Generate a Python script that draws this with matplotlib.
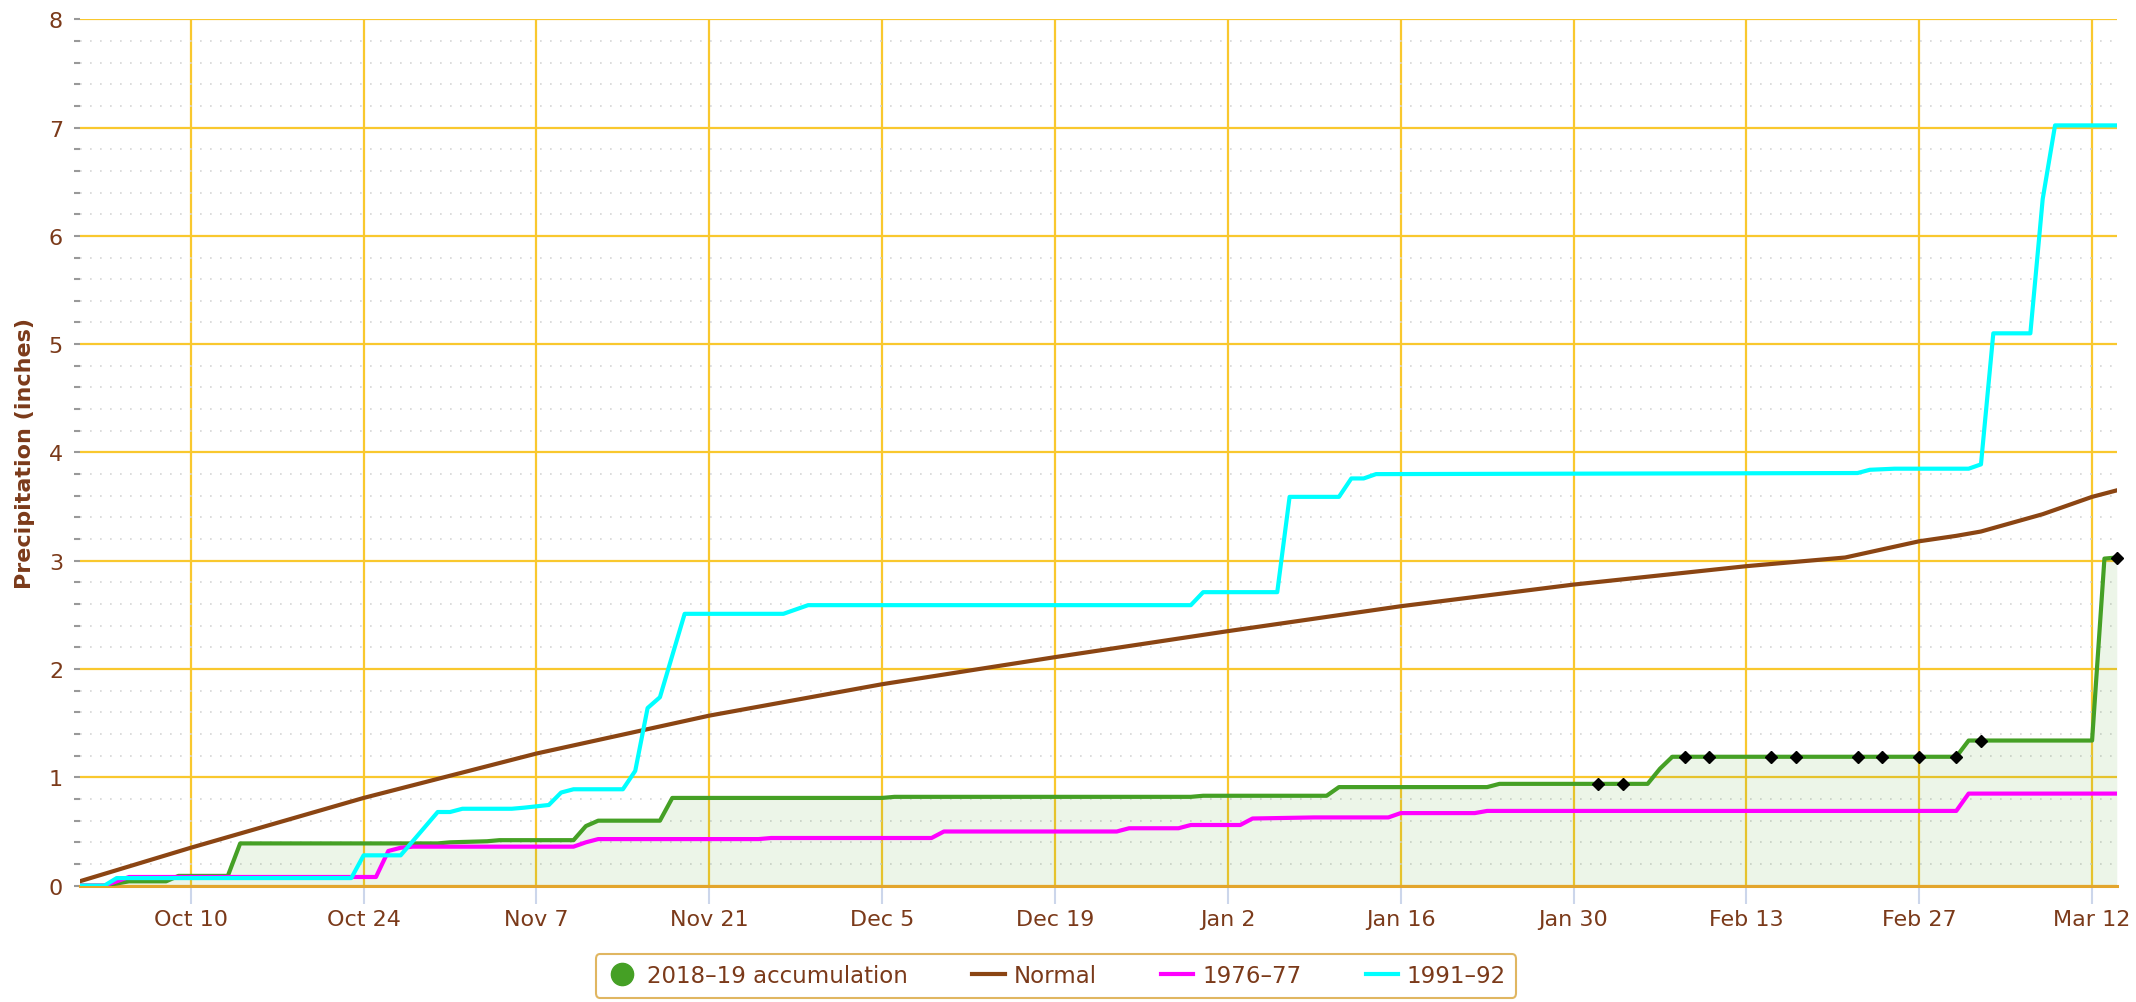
import numpy as np
import matplotlib
matplotlib.use("Agg")
import matplotlib.pyplot as plt
from matplotlib.lines import Line2D
from matplotlib.ticker import MultipleLocator

# water-year day index (0 = Oct 1, calendar has a Feb 29 slot)
tick_days = [9, 23, 37, 51, 65, 79, 93, 107, 121, 135, 149, 163]
tick_labels = ["Oct 10", "Oct 24", "Nov 7", "Nov 21", "Dec 5", "Dec 19",
               "Jan 2", "Jan 16", "Jan 30", "Feb 13", "Feb 27", "Mar 12"]

# 2018-19 accumulation
acc_day = [0, 2, 4, 7, 8, 12, 13, 29, 30, 33, 34, 40, 41, 42, 47, 48, 65, 66,
           90, 91, 101, 102, 114, 115, 127, 128, 129, 152, 153, 163, 164, 165]
acc_val = [0, 0, 0.04, 0.04, 0.09, 0.09, 0.39, 0.39, 0.40, 0.41, 0.42, 0.42,
           0.55, 0.60, 0.60, 0.81, 0.81, 0.82, 0.82, 0.83, 0.83, 0.91, 0.91,
           0.94, 0.94, 1.08, 1.19, 1.19, 1.34, 1.34, 3.02, 3.03]
# flagged days (black diamonds)
flag_day = [123, 125, 130, 132, 137, 139, 144, 146, 149, 152, 154, 165]
flag_val = [0.94, 0.94, 1.19, 1.19, 1.19, 1.19, 1.19, 1.19, 1.19, 1.19, 1.34, 3.03]

# Normal
norm_day = [0, 9, 23, 37, 51, 65, 79, 93, 107, 121, 135, 143, 149, 152, 154,
            159, 163, 165]
norm_val = [0.04, 0.35, 0.81, 1.22, 1.57, 1.86, 2.11, 2.35, 2.58, 2.78, 2.95,
            3.03, 3.18, 3.23, 3.27, 3.43, 3.59, 3.65]

# 1976-77
y77_day = [0, 2, 3, 4, 24, 25, 26, 27, 40, 41, 42, 55, 56, 69, 70, 84, 85, 89,
           90, 94, 95, 100, 106, 107, 113, 114, 152, 153, 165]
y77_val = [0, 0, 0.04, 0.08, 0.08, 0.32, 0.35, 0.36, 0.36, 0.40, 0.43, 0.43,
           0.44, 0.44, 0.50, 0.50, 0.53, 0.53, 0.56, 0.56, 0.62, 0.63, 0.63,
           0.67, 0.67, 0.69, 0.69, 0.85, 0.85]

# 1991-92
y92_day = [0, 2, 3, 22, 23, 26, 29, 30, 31, 35, 36, 38, 39, 40, 44, 45, 46, 47,
           49, 57, 58, 59, 90, 91, 97, 98, 102, 103, 104, 105, 144, 145, 147,
           153, 154, 155, 158, 159, 160, 165]
y92_val = [0, 0, 0.07, 0.07, 0.28, 0.28, 0.68, 0.68, 0.71, 0.71, 0.72, 0.745,
           0.86, 0.89, 0.89, 1.06, 1.64, 1.74, 2.51, 2.51, 2.55, 2.59, 2.59,
           2.71, 2.71, 3.59, 3.59, 3.76, 3.76, 3.80, 3.81, 3.84, 3.85, 3.85,
           3.89, 5.10, 5.10, 6.34, 7.02, 7.02]

brown = "#7B3A1A"
gold = "#F9C82E"

fig = plt.figure(figsize=(21.36, 10.03), dpi=100)
ax = fig.add_axes([0.0373, 0.116, 0.9537, 0.8638])

ax.fill_between(acc_day, acc_val, 0, color="#45A025", alpha=0.1, lw=0, zorder=1)
ax.plot(acc_day, acc_val, color="#45A025", lw=3, zorder=3)
ax.plot(norm_day, norm_val, color="#8B4513", lw=3, zorder=4)
ax.plot(y77_day, y77_val, color="#FF00FF", lw=3, zorder=5)
ax.plot(y92_day, y92_val, color="#00FFFF", lw=3, zorder=6)
ax.plot(flag_day, flag_val, "D", color="black", ms=6, zorder=7, clip_on=False)

ax.set_xlim(0, 165)
ax.set_ylim(0, 8)
ax.set_xticks(tick_days)
ax.set_xticklabels(tick_labels)
ax.yaxis.set_major_locator(MultipleLocator(1))
ax.yaxis.set_minor_locator(MultipleLocator(0.2))

ax.grid(True, which="major", color=gold, lw=1.6, zorder=0)
ax.grid(True, which="minor", axis="y", color="#D5D5D5", lw=1.2,
        linestyle=(0, (1, 5)), zorder=0)
ax.set_axisbelow(True)

for s in ["top", "right", "left"]:
    ax.spines[s].set_visible(False)
ax.spines["bottom"].set_color("#E3A52C")
ax.spines["bottom"].set_linewidth(2.2)
ax.spines["bottom"].set_zorder(2)

ax.tick_params(axis="x", length=13, width=1.5, color="#CCD6EB", pad=4,
               labelsize=16, labelcolor=brown)
ax.tick_params(axis="y", which="both", length=4, width=1.5, color="#999999",
               pad=8, labelsize=16, labelcolor=brown)

ax.set_ylabel("Precipitation (inches)", fontsize=16, fontweight="bold",
              color=brown)
ax.yaxis.set_label_coords(-0.022, 0.5)

handles = [
    Line2D([], [], marker="o", color="#45A025", ls="none", ms=16),
    Line2D([], [], color="#8B4513", lw=3),
    Line2D([], [], color="#FF00FF", lw=3),
    Line2D([], [], color="#00FFFF", lw=3),
]
labels = ["2018\u201319 accumulation", "Normal", "1976\u201377", "1991\u201392"]
leg = fig.legend(handles, labels, loc="center", bbox_to_anchor=(0.4944, 0.026),
                 ncol=4, fontsize=16.5, frameon=True, handlelength=1.4,
                 handletextpad=0.4, columnspacing=2.8, borderpad=0.45,
                 fancybox=True, labelcolor=brown)
leg.get_frame().set_edgecolor("#D9A43A")
leg.get_frame().set_linewidth(1.5)

fig.savefig("out.png", dpi=100, facecolor="white")
